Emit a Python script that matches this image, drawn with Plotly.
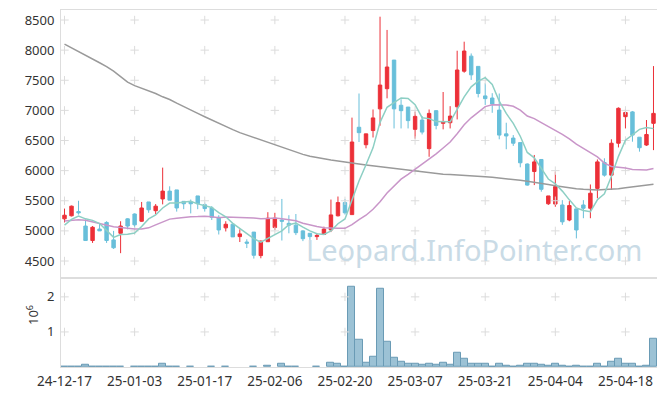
import plotly.graph_objects as go

# ---- data ----
tick_labels = ["24-12-17", "25-01-03", "25-01-17", "25-02-06", "25-02-20",
               "25-03-07", "25-03-21", "25-04-04", "25-04-18"]
tick_index = [0, 10, 20, 30, 40, 50, 60, 70, 80]

opens = [5200, 5250, 5320, 5080, 4840, 5030, 5140, 4850, 4960, 5200,
         5280, 5160, 5480, 5335, 5530, 5660, 5680, 5490, 5480, 5580,
         5435, 5380, 5225, 5050, 5110, 4905, 4815, 4980, 4590, 4820,
         5055, 5180, 5125, 5095, 5000, 4960, 4905, 4940, 5015, 5250,
         5470, 5270, 6720, 6430, 6665, 7025, 7360, 7835, 7085, 7055,
         6685, 6840, 6365, 6995, 6785, 6795, 7060, 7650, 7900, 7730,
         7240, 7205, 7005, 6610, 6540, 6465, 6110, 5985, 6185, 5450,
         5445, 5430, 5180, 5365, 5430, 5375, 5705, 6135, 5925, 6455,
         6895, 6975, 6555, 6425, 6785]
highs = [5370, 5420, 5500, 5190, 5080, 5120, 5160, 5000, 5160, 5210,
         5290, 5480, 5480, 5445, 6050, 5740, 5680, 5490, 5520, 5580,
         5470, 5410, 5260, 5160, 5110, 5025, 4860, 4980, 4840, 5310,
         5300, 5530, 5260, 5280, 5010, 4960, 4960, 5070, 5520, 5570,
         5530, 6880, 7280, 6610, 7015, 8555, 8335, 7835, 7185, 7055,
         6980, 6905, 7015, 7005, 7305, 7070, 7990, 8140, 7945, 7730,
         7450, 7285, 7280, 6795, 6590, 6465, 6120, 6260, 6190, 5580,
         5985, 5510, 5495, 5365, 5510, 5770, 6185, 6205, 6520, 7050,
         7015, 6990, 6555, 6840, 7735]
lows = [5140, 5240, 5270, 4840, 4800, 5000, 4800, 4700, 4630, 5025,
        5040, 5150, 5300, 5280, 5440, 5510, 5320, 5360, 5290, 5360,
        5320, 5180, 4940, 4990, 4900, 4815, 4715, 4540, 4545, 4820,
        5015, 4840, 4960, 4930, 4830, 4850, 4850, 4940, 4980, 5240,
        5270, 5270, 6475, 6370, 6550, 6745, 7200, 6700, 6700, 6700,
        6530, 6600, 6230, 6685, 6685, 6700, 6850, 7625, 7505, 7215,
        7090, 6960, 6520, 6355, 6410, 6055, 5750, 5760, 5650, 5430,
        5400, 5100, 5160, 4875, 5210, 5210, 5540, 5900, 5680, 6385,
        6700, 6480, 6315, 6410, 6340]
closes = [5260, 5410, 5300, 4840, 5060, 5000, 4840, 4720, 5080, 5080,
          5100, 5380, 5350, 5410, 5660, 5510, 5380, 5450, 5450, 5450,
          5370, 5225, 5015, 5110, 4900, 4950, 4795, 4595, 4830, 5210,
          5210, 5160, 5095, 4970, 4870, 4905, 4925, 5030, 5265, 5470,
          5300, 6475, 6630, 6610, 6875, 7420, 7720, 7025, 6995, 6830,
          6900, 6640, 6950, 6750, 6805, 6905, 7670, 7985, 7590, 7280,
          7195, 7105, 6590, 6575, 6455, 6130, 5760, 6145, 5690, 5580,
          5735, 5150, 5420, 5015, 5375, 5625, 6145, 5925, 6455, 7035,
          6965, 6590, 6380, 6600, 6950]
volumes = [20000, 20000, 20000, 70000, 20000, 20000, 20000, 20000, 20000, 0,
           20000, 20000, 20000, 20000, 100000, 20000, 20000, 0, 20000, 0,
           0, 20000, 0, 20000, 0, 0, 0, 20000, 0, 50000,
           0, 100000, 20000, 20000, 0, 0, 20000, 0, 130000, 80000,
           20000, 2300000, 780000, 130000, 300000, 2240000, 710000, 270000, 150000, 80000,
           100000, 60000, 100000, 60000, 130000, 60000, 410000, 240000, 100000, 80000,
           80000, 20000, 80000, 50000, 20000, 50000, 80000, 100000, 70000, 50000,
           80000, 40000, 20000, 40000, 20000, 20000, 80000, 20000, 150000, 240000,
           80000, 100000, 20000, 50000, 810000]
ma5 = [5095, 5190, 5245, 5200, 5174, 5122, 5008, 4892, 4940, 4944,
       4964, 5072, 5198, 5264, 5380, 5462, 5462, 5482, 5490, 5448,
       5420, 5389, 5302, 5234, 5124, 5040, 4954, 4870, 4814, 4876,
       4928, 5001, 5101, 5129, 5061, 5000, 4953, 4940, 4999, 5119,
       5198, 5508, 5828, 6097, 6378, 6802, 7051, 7130, 7207, 7198,
       7094, 6878, 6863, 6814, 6809, 6810, 7016, 7223, 7391, 7486,
       7544, 7431, 7152, 6949, 6784, 6571, 6302, 6213, 6036, 5861,
       5782, 5660, 5515, 5380, 5339, 5317, 5516, 5617, 5905, 6237,
       6505, 6594, 6685, 6714, 6697]
ma20 = [5165, 5180, 5185, 5175, 5150, 5120, 5090, 5070, 5055, 5040,
        5030, 5030, 5050, 5100, 5150, 5195, 5210, 5225, 5235, 5237,
        5242, 5233, 5219, 5232, 5224, 5222, 5219, 5213, 5201, 5207,
        5213, 5202, 5189, 5167, 5127, 5097, 5074, 5053, 5044, 5045,
        5042, 5104, 5185, 5260, 5359, 5482, 5628, 5750, 5858, 5939,
        6024, 6098, 6190, 6279, 6376, 6476, 6613, 6761, 6877, 6968,
        7063, 7094, 7092, 7090, 7069, 7005, 6907, 6863, 6798, 6735,
        6677, 6602, 6526, 6439, 6368, 6304, 6227, 6124, 6068, 6055,
        6044, 6018, 6008, 6009, 6034]
ma120 = [8100, 8040, 7980, 7920, 7855, 7790, 7725, 7650, 7560, 7470,
         7410, 7370, 7325, 7280, 7225, 7180, 7120, 7060, 7000, 6950,
         6895, 6840, 6780, 6730, 6680, 6630, 6590, 6550, 6505, 6465,
         6420, 6380, 6340, 6305, 6270, 6240, 6215, 6195, 6175, 6160,
         6140, 6125, 6110, 6095, 6080, 6065, 6050, 6035, 6020, 6005,
         5990, 5975, 5960, 5950, 5940, 5935, 5930, 5925, 5918, 5910,
         5900, 5890, 5880, 5868, 5855, 5840, 5825, 5810, 5790, 5770,
         5750, 5730, 5715, 5700, 5690, 5680, 5680, 5685, 5690, 5700,
         5715, 5730, 5745, 5760, 5775]

price_ticks = [4500, 5000, 5500, 6000, 6500, 7000, 7500, 8000, 8500]
vol_ticks = [1, 2]

n = len(closes)
idx = list(range(n))

RED = "#ec3038"
BLUE = "#68bfda"
FONT = "Noto Sans"

fig = go.Figure()

# grid "+" marks at tick intersections
gx, gy = [], []
for t in tick_index:
    for p in price_ticks:
        gx.append(t); gy.append(p)
fig.add_trace(go.Scatter(x=gx, y=gy, mode="markers", xaxis="x", yaxis="y",
                         marker=dict(symbol="cross-thin", size=6,
                                     line=dict(color="#dcdcdc", width=1)),
                         hoverinfo="skip", showlegend=False))
vx, vy = [], []
for t in tick_index:
    for v in vol_ticks:
        vx.append(t); vy.append(v)
fig.add_trace(go.Scatter(x=vx, y=vy, mode="markers", xaxis="x2", yaxis="y2",
                         marker=dict(symbol="cross-thin", size=6,
                                     line=dict(color="#dcdcdc", width=1)),
                         hoverinfo="skip", showlegend=False))

fig.add_trace(go.Candlestick(
    x=idx, open=opens, high=highs, low=lows, close=closes,
    xaxis="x", yaxis="y",
    increasing=dict(line=dict(color=RED, width=1), fillcolor=RED),
    decreasing=dict(line=dict(color=BLUE, width=1), fillcolor=BLUE),
    whiskerwidth=0, showlegend=False))

fig.add_trace(go.Scatter(x=idx, y=ma120, mode="lines", xaxis="x", yaxis="y",
                         line=dict(color="#9a9a9a", width=1.5), showlegend=False))
fig.add_trace(go.Scatter(x=idx, y=ma20, mode="lines", xaxis="x", yaxis="y",
                         line=dict(color="#c996c9", width=1.5), showlegend=False))
fig.add_trace(go.Scatter(x=idx, y=ma5, mode="lines", xaxis="x", yaxis="y",
                         line=dict(color="#8dcfc4", width=1.5), showlegend=False))

vol_m = [v / 1e6 if v > 0 else None for v in volumes]
fig.add_trace(go.Bar(x=idx, y=vol_m, xaxis="x2", yaxis="y2", width=1,
                     marker=dict(color="#9cc2d5", line=dict(color="#6a9bb5", width=1)),
                     showlegend=False))

LINE = "#dddddd"
# the page body adds an 8px offset, so the figure is 8px smaller and margins shifted
fig.update_layout(
    width=657, height=388,
    margin=dict(l=53, r=8, t=2, b=29, autoexpand=False),
    paper_bgcolor="white", plot_bgcolor="white",
    font=dict(family=FONT, size=13, color="#333333"),
    bargap=0,
    xaxis=dict(domain=[0, 1], range=[-0.5, 84.5], anchor="y", automargin=False,
               rangeslider=dict(visible=False),
               showticklabels=False, showgrid=False, zeroline=False,
               showline=True, mirror=True, linecolor=LINE, linewidth=1),
    yaxis=dict(domain=[0.25, 1], range=[4222, 8666], anchor="x", automargin=False,
               tickvals=price_ticks, showgrid=False, zeroline=False,
               showline=True, mirror=True, linecolor=LINE, linewidth=1,
               ticks="outside", ticklen=3, tickcolor="rgba(0,0,0,0)",
               tickfont=dict(size=13, color="#333333")),
    xaxis2=dict(domain=[0, 1], range=[-0.5, 84.5], anchor="y2", automargin=False,
                tickvals=tick_index, ticktext=tick_labels,
                showgrid=False, zeroline=False,
                showline=True, mirror=True, linecolor=LINE, linewidth=1,
                ticks="outside", ticklen=2, tickcolor="rgba(0,0,0,0)",
                tickfont=dict(size=13.5, color="#333333")),
    yaxis2=dict(domain=[0, 0.25], range=[0, 2.545], anchor="x2", automargin=False,
                tickvals=vol_ticks, showgrid=False, zeroline=False,
                showline=True, mirror=True, linecolor=LINE, linewidth=1,
                ticks="outside", ticklen=3, tickcolor="rgba(0,0,0,0)",
                tickfont=dict(size=13, color="#333333")),
    annotations=[
        dict(text="Leopard.InfoPointer.com", xref="paper", yref="paper",
             x=0.6935, y=0.328, xanchor="center", yanchor="middle",
             showarrow=False,
             font=dict(family=FONT, size=29, color="#c9dbe6")),
        dict(text="10<sup>6</sup>", xref="paper", yref="paper",
             x=-0.049, y=0.145, xanchor="center", yanchor="middle",
             textangle=-90, showarrow=False,
             font=dict(family=FONT, size=13, color="#333333")),
    ],
)

fig.write_html("out.html")
